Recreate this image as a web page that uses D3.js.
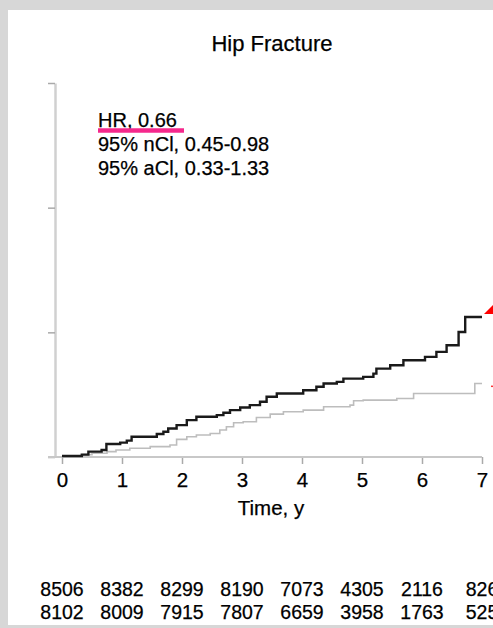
<!DOCTYPE html>
<html>
<head>
<meta charset="utf-8">
<script src="https://cdn.jsdelivr.net/npm/d3@7"></script>
<style>
  body { margin: 0; background: #d7d7d7; }
  svg { display: block; }
  text { font-family: "Liberation Sans", Arial, Helvetica, sans-serif; fill: #000; stroke: #000; stroke-width: 0.25; }
</style>
</head>
<body>
<svg id="mysvg" width="493" height="628"></svg>
<script>

// years on the x axis
var years = [0, 1, 2, 3, 4, 5, 6, 7];
var yTicks = [0, 1, 2, 3];

// numbers at risk
var riskTop = [8506, 8382, 8299, 8190, 7073, 4305, 2116, 826];
var riskBottom = [8102, 8009, 7915, 7807, 6659, 3958, 1763, 525];

// cumulative incidence, %  (black = upper curve, gray = lower curve)
var blackT = [0, 0.33, 0.44, 0.66, 0.74, 0.97, 1.08, 1.16, 1.58, 1.69, 1.77, 1.91, 2.08, 2.24, 2.58, 2.69, 2.80, 2.97, 3.13, 3.30,
	3.41, 3.58, 4.02, 4.24, 4.36, 4.58, 4.69, 5.02, 5.19, 5.24, 5.47, 5.69, 6.05, 6.24, 6.41, 6.61, 6.72, 7.0];
var blackV = [0.008, 0.019, 0.043, 0.056, 0.104, 0.115, 0.131, 0.163, 0.184, 0.203, 0.229, 0.256, 0.296, 0.323, 0.336, 0.355, 0.376, 0.397, 0.416, 0.443,
	0.483, 0.509, 0.536, 0.563, 0.589, 0.603, 0.629, 0.643, 0.669, 0.709, 0.736, 0.776, 0.803, 0.843, 0.896, 1.003, 1.123, 1.123];

var grayT = [0, 0.35, 0.5, 0.75, 0.9, 1.13, 1.47, 1.8, 1.91, 2.08, 2.24, 2.47, 2.63, 2.74, 2.86, 3.02, 3.24, 3.47, 3.69, 4.02,
	4.36, 4.8, 4.86, 5.02, 5.58, 5.86, 6.88, 7.0];
var grayV = [0.008, 0.019, 0.03, 0.043, 0.056, 0.07, 0.083, 0.096, 0.141, 0.163, 0.176, 0.189, 0.216, 0.243, 0.275, 0.283, 0.317, 0.344, 0.363, 0.376,
	0.403, 0.416, 0.451, 0.456, 0.469, 0.509, 0.589, 0.589];

var statLines = ["HR, 0.66", "95% nCl, 0.45-0.98", "95% aCl, 0.33-1.33"];

var svg = d3.select("#mysvg");

// white panel on the textured page
svg.append("rect")
	.attr("x", 8).attr("y", 10)
	.attr("width", 490).attr("height", 615)
	.attr("fill", "#ffffff");

var x = d3.scaleLinear().domain([0, 7]).range([62, 482]);
var y = d3.scaleLinear().domain([0, 3]).range([457, 83]);

svg.append("text")
	.attr("x", 272).attr("y", 51)
	.attr("text-anchor", "middle")
	.attr("font-size", 22)
	.text("Hip Fracture");

// y axis, no labels
var yAxis = svg.append("g")
	.attr("transform", "translate(55,0)")
	.call(d3.axisLeft(y).tickValues(yTicks).tickSize(7).tickSizeOuter(0).tickFormat(""));
yAxis.select(".domain").attr("stroke", "#d0d0d0").attr("stroke-width", 2.5);
yAxis.selectAll(".tick line").attr("stroke", "#aaaaaa").attr("stroke-width", 1.5);

// x axis
var xAxis = svg.append("g")
	.attr("transform", "translate(0,457)")
	.call(d3.axisBottom(x).tickValues(years).tickFormat(d3.format("d")).tickSize(7).tickSizeOuter(0).tickPadding(8));
xAxis.select(".domain").remove();
xAxis.selectAll(".tick line").attr("stroke", "#aaaaaa").attr("stroke-width", 1.5);
xAxis.selectAll(".tick text")
	.attr("font-size", 20.5)
	.attr("font-family", "Liberation Sans, Arial, sans-serif")
	.attr("fill", "#000");

svg.append("line")
	.attr("x1", 48).attr("x2", x(7))
	.attr("y1", y(0)).attr("y2", y(0))
	.attr("stroke", "#c8c8c8")
	.attr("stroke-width", 2);

svg.append("text")
	.attr("x", 271).attr("y", 515)
	.attr("text-anchor", "middle")
	.attr("font-size", 20.5)
	.text("Time, y");

// curves
var stepLine = d3.line()
	.x(function (d) { return x(d[0]); })
	.y(function (d) { return y(d[1]); })
	.curve(d3.curveStepAfter);

var grayData = d3.zip(grayT, grayV);
var blackData = d3.zip(blackT, blackV);

svg.append("path")
	.datum(grayData)
	.attr("d", stepLine)
	.attr("fill", "none")
	.attr("stroke", "#bdbdbd")
	.attr("stroke-width", 1.6);

svg.append("path")
	.datum(blackData)
	.attr("d", stepLine)
	.attr("fill", "none")
	.attr("stroke", "#1a1a1a")
	.attr("stroke-width", 2.4);

// red marks at the curve ends
var bx = x(7), by = y(blackV[blackV.length - 1]);
svg.append("path")
	.attr("d", "M" + (bx + 2) + "," + (by - 3) + " L" + (bx + 16) + "," + (by - 17) + " L" + (bx + 16) + "," + (by - 3) + " Z")
	.attr("fill", "#ff0000");

var gy = y(grayV[grayV.length - 1]);
svg.append("rect")
	.attr("x", bx + 9).attr("y", gy + 2)
	.attr("width", 2).attr("height", 1.5)
	.attr("fill", "#ff3333");

// HR text block
var stats = svg.append("g");
stats.selectAll("text")
	.data(statLines)
	.enter().append("text")
	.attr("x", 98)
	.attr("y", function (d, i) { return 127 + i * 24; })
	.attr("font-size", 20)
	.text(function (d) { return d; });

svg.append("line")
	.attr("x1", 98).attr("x2", 184)
	.attr("y1", 130.5).attr("y2", 130.5)
	.attr("stroke", "#f5288c")
	.attr("stroke-width", 4.5);

// numbers at risk
var rows = [riskTop, riskBottom];
rows.forEach(function (row, r) {
	svg.append("g").selectAll("text")
		.data(row)
		.enter().append("text")
		.attr("x", function (d, i) { return x(years[i]); })
		.attr("y", 596 + r * 23)
		.attr("text-anchor", "middle")
		.attr("font-size", 19.5)
		.text(function (d) { return d; });
});

</script>
</body>
</html>
